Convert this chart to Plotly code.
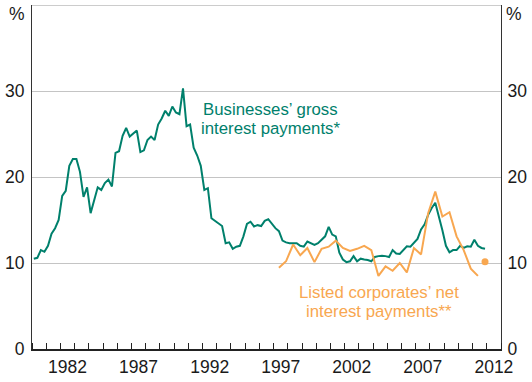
import numpy as np
import plotly.graph_objects as go

# Businesses' gross interest payments, % (quarterly, 1980 Q1 - 2011 Q4)
gross_years = list(range(1980, 2012))
gross_values = [
    10.5, 10.6, 11.5, 11.3,   # 1980
    12.0, 13.4, 14.05, 15.0,  # 1981
    17.8, 18.4, 21.3, 22.1,   # 1982
    22.1, 20.6, 17.7, 18.8,   # 1983
    15.8, 17.3, 18.8, 18.5,   # 1984
    19.3, 19.7, 18.9, 22.8,   # 1985
    23.0, 24.8, 25.7, 24.7,   # 1986
    25.0, 25.4, 22.9, 23.1,   # 1987
    24.3, 24.7, 24.3, 26.1,   # 1988
    26.8, 27.7, 27.1, 28.2,   # 1989
    27.5, 27.3, 30.3, 25.9,   # 1990
    26.1, 23.4, 22.5, 21.3,   # 1991
    18.5, 18.7, 15.2, 14.9,   # 1992
    14.6, 14.3, 12.3, 12.4,   # 1993
    11.65, 11.9, 12.0, 13.1,  # 1994
    14.55, 14.8, 14.25, 14.4, # 1995
    14.3, 14.9, 15.1, 14.55,  # 1996
    14.05, 13.7, 12.6, 12.4,  # 1997
    12.3, 12.3, 12.3, 12.0,   # 1998
    11.9, 12.5, 12.3, 12.1,   # 1999
    12.3, 12.7, 13.1, 14.2,   # 2000
    13.3, 13.1, 11.2, 10.4,   # 2001
    10.1, 10.2, 10.8, 10.2,   # 2002
    10.5, 10.4, 10.35, 10.2,  # 2003
    10.7, 10.8, 10.85, 10.8,  # 2004
    10.7, 11.5, 11.1, 11.05,  # 2005
    11.5, 11.95, 11.9, 12.4,  # 2006
    12.8, 13.9, 14.5, 15.6,   # 2007
    16.4, 17.0, 15.55, 13.8,  # 2008
    12.0, 11.25, 11.5, 11.5,  # 2009
    12.0, 11.75, 11.95, 11.9, # 2010
    12.7, 12.0, 11.75, 11.65, # 2011
]

# Listed corporates' net interest payments, % (half-yearly, 1997 H1 - 2011 H1)
net_years = list(range(1997, 2012))
net_values = [
    9.45, 10.2,   # 1997
    12.15, 10.9,  # 1998
    11.75, 10.1,  # 1999
    11.65, 11.9,  # 2000
    12.6, 11.75,  # 2001
    11.4, 11.65,  # 2002
    12.0, 11.5,   # 2003
    8.5, 9.6,     # 2004
    9.1, 10.0,    # 2005
    8.9, 11.75,   # 2006
    11.0, 15.8,   # 2007
    18.3, 15.4,   # 2008
    15.9, 13.1,   # 2009
    11.5, 9.35,   # 2010
    8.5,          # 2011
]
net_estimate = 10.15   # 2011 H2

y_ticks = [0, 10, 20, 30]
x_labels = [1982, 1987, 1992, 1997, 2002, 2007, 2012]

GREEN = "#00806c"
ORANGE = "#f8a750"
FONT = "Liberation Sans, Arial, sans-serif"

# Time positions: centre of each quarter / half-year
gross_t = [y + 0.125 + 0.25 * q for y in gross_years for q in range(4)]
net_t = [y + 0.375 + 0.5 * h for y in net_years for h in range(2)][:len(net_values)]
est_t = net_t[-1] + 0.5

fig = go.Figure()
fig.add_trace(go.Scatter(x=gross_t, y=gross_values, mode="lines",
                         line=dict(color=GREEN, width=2), hoverinfo="skip"))
fig.add_trace(go.Scatter(x=net_t, y=net_values, mode="lines",
                         line=dict(color=ORANGE, width=2), hoverinfo="skip"))
fig.add_trace(go.Scatter(x=[est_t], y=[net_estimate], mode="markers",
                         marker=dict(color=ORANGE, size=7), yaxis="y2",
                         hoverinfo="skip"))

tick_font = dict(family=FONT, size=17.5, color="#1a1a1a")

fig.update_layout(
    width=532, height=382,
    margin=dict(l=32, r=26, t=5, b=28),
    paper_bgcolor="white", plot_bgcolor="white",
    showlegend=False,
    xaxis=dict(
        range=[1980, 2013],
        tickvals=[v + 0.5 for v in x_labels],
        ticktext=[str(v) for v in x_labels],
        ticks="", showgrid=False, zeroline=False,
        showline=True, linecolor="#222222", linewidth=1.5,
        tickfont=tick_font, ticklabelstandoff=1,
        minor=dict(tick0=1980, dtick=1, ticks="inside", ticklen=6,
                   tickcolor="#222222", tickwidth=1, showgrid=False),
    ),
    yaxis=dict(
        range=[0, 40], tickvals=y_ticks, ticks="",
        showgrid=True, gridcolor="#c4c4c4", gridwidth=1,
        zeroline=False, showline=True, linecolor="#333333", linewidth=1.2,
        tickfont=tick_font, ticklabelstandoff=3,
    ),
    yaxis2=dict(
        range=[0, 40], tickvals=y_ticks, ticks="", overlaying="y",
        side="right", showgrid=False, zeroline=False,
        showline=True, linecolor="#333333", linewidth=1.2,
        tickfont=tick_font, ticklabelstandoff=2,
    ),
)

# Top frame line
fig.add_shape(type="line", xref="paper", yref="y", x0=0, x1=1, y0=40, y1=40,
              line=dict(color="#9a9a9a", width=1.2))

# Unit labels
for xp in (-0.032, 1.028):
    fig.add_annotation(x=xp, y=39, xref="paper", yref="y", text="%",
                       showarrow=False, font=tick_font,
                       xanchor="center", yanchor="middle")

# Series labels
label_font_g = dict(family=FONT, size=16.8, color=GREEN)
label_font_o = dict(family=FONT, size=16.8, color=ORANGE)
for txt, yv in (("Businesses’ gross", 27.85), ("interest payments*", 25.67)):
    fig.add_annotation(x=1996.8, y=yv, text=txt, showarrow=False,
                       font=label_font_g, xanchor="center", yanchor="middle")
for txt, yv in (("Listed corporates’ net", 6.59), ("interest payments**", 4.37)):
    fig.add_annotation(x=2004.45, y=yv, text=txt, showarrow=False,
                       font=label_font_o, xanchor="center", yanchor="middle")

fig.write_html("out.html")
